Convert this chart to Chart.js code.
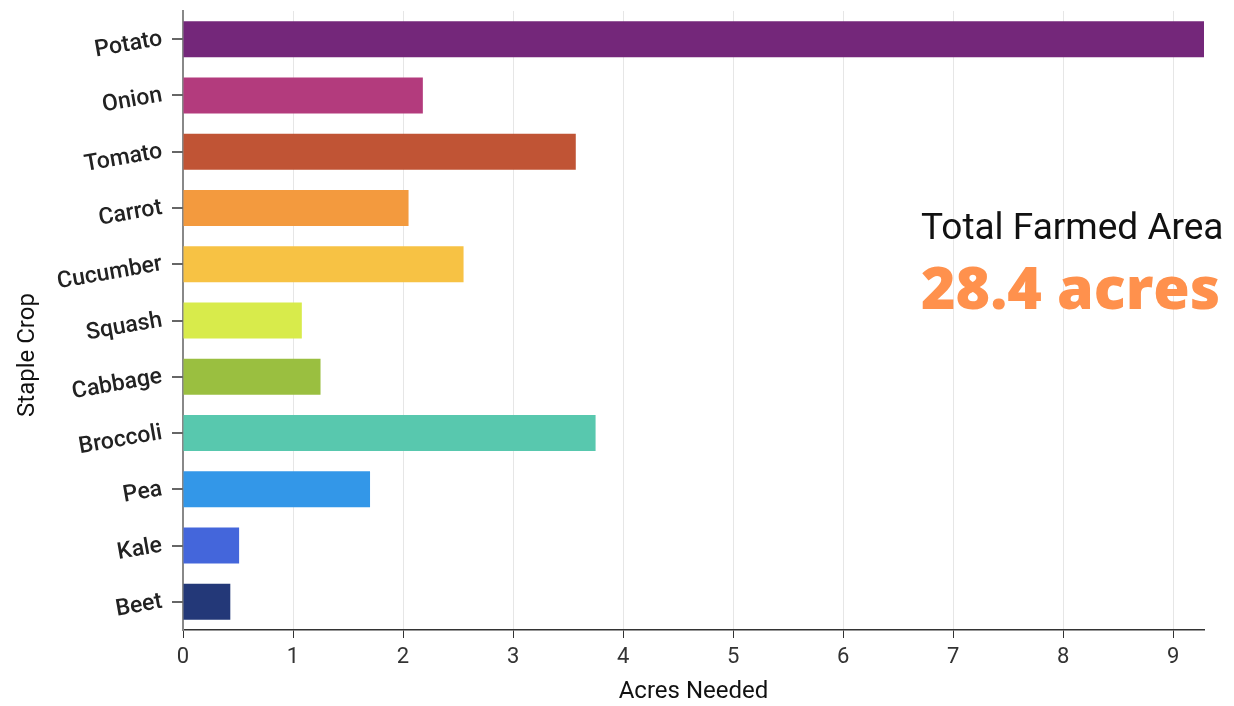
<!DOCTYPE html>
<html>
<head>
<meta charset="utf-8">
<script src="https://cdn.jsdelivr.net/npm/chart.js@4"></script>
<style>
  html, body { margin: 0; padding: 0; background: #fff; }
  #wrap { position: relative; width: 1234px; height: 706px; }
  #total { position: absolute; left: 921px; top: 203px; text-align: left; white-space: nowrap; }
  #total .lbl { font-family: Roboto, sans-serif; font-size: 37px; color: #111; line-height: 48px; }
  #total .val { font-family: "Open Sans", sans-serif; font-weight: 800; font-size: 59px; color: #FF914D; line-height: 70px; }
</style>
</head>
<body>
<div id="wrap">
  <canvas id="chart" width="1234" height="706"></canvas>
  <div id="total">
    <div class="lbl">Total Farmed Area</div>
    <div class="val">28.4 acres</div>
  </div>
</div>
<script>
const crops = ['Potato', 'Onion', 'Tomato', 'Carrot', 'Cucumber', 'Squash', 'Cabbage', 'Broccoli', 'Pea', 'Kale', 'Beet'];
const acres = [9.28, 2.18, 3.57, 2.05, 2.55, 1.08, 1.25, 3.75, 1.70, 0.51, 0.43];
const colors = ['#74277A', '#B33B7D', '#C05435', '#F39A3E', '#F7C244', '#D8EB4B', '#9ABF40', '#58C8AE', '#3397E8', '#4466DB', '#233878'];
const xTicks = [0, 1, 2, 3, 4, 5, 6, 7, 8, 9];

// y tick marks at category centres + the y axis title, drawn by hand
const yExtras = {
  id: 'yExtras',
  afterDraw(chart) {
    const c = chart.ctx;
    const y = chart.scales.y;
    c.save();
    c.strokeStyle = '#666';
    c.lineWidth = 2;
    y.ticks.forEach((t, i) => {
      const py = Math.round(y.getPixelForTick(i));
      c.beginPath();
      c.moveTo(y.right - 11, py);
      c.lineTo(y.right, py);
      c.stroke();
    });
    c.translate(28, 355);
    c.rotate(-Math.PI / 2);
    c.fillStyle = '#111';
    c.font = '24px Roboto';
    c.textAlign = 'center';
    c.textBaseline = 'middle';
    c.fillText('Staple Crop', 0, 0);
    c.restore();
  }
};

const ctx = document.getElementById('chart');
new Chart(ctx, {
  type: 'bar',
  data: {
    labels: crops,
    datasets: [{
      data: acres,
      backgroundColor: colors,
      borderWidth: 0,
      barPercentage: 0.8,
      categoryPercentage: 0.8
    }]
  },
  options: {
    indexAxis: 'y',
    responsive: false,
    animation: false,
    layout: { padding: { top: 11, right: 30, left: 0, bottom: 0 } },
    plugins: { legend: { display: false }, tooltip: { enabled: false } },
    scales: {
      x: {
        min: 0,
        max: Math.max(...acres),
        afterFit: s => { s.height = 76; },
        afterBuildTicks: s => { s.ticks = xTicks.map(v => ({ value: v })); },
        ticks: {
          color: '#333',
          font: { family: 'Roboto', size: 22 },
          padding: 6
        },
        grid: {
          color: '#e6e6e6',
          tickColor: '#333',
          tickLength: 8
        },
        border: { color: '#333', width: 1.5 },
        title: {
          display: true,
          text: 'Acres Needed',
          color: '#111',
          font: { family: 'Roboto', size: 24 },
          padding: 0
        }
      },
      y: {
        afterFit: s => { s.width = 183; s.paddingTop = 0; s.paddingBottom = 0; },
        ticks: {
          color: '#222',
          minRotation: 10,
          maxRotation: 10,
          font: { family: 'Roboto', size: 23, weight: '500' },
          padding: 13
        },
        grid: {
          display: false
        },
        border: { color: '#888', width: 2 }
      }
    }
  },
  plugins: [yExtras]
});
</script>
</body>
</html>
